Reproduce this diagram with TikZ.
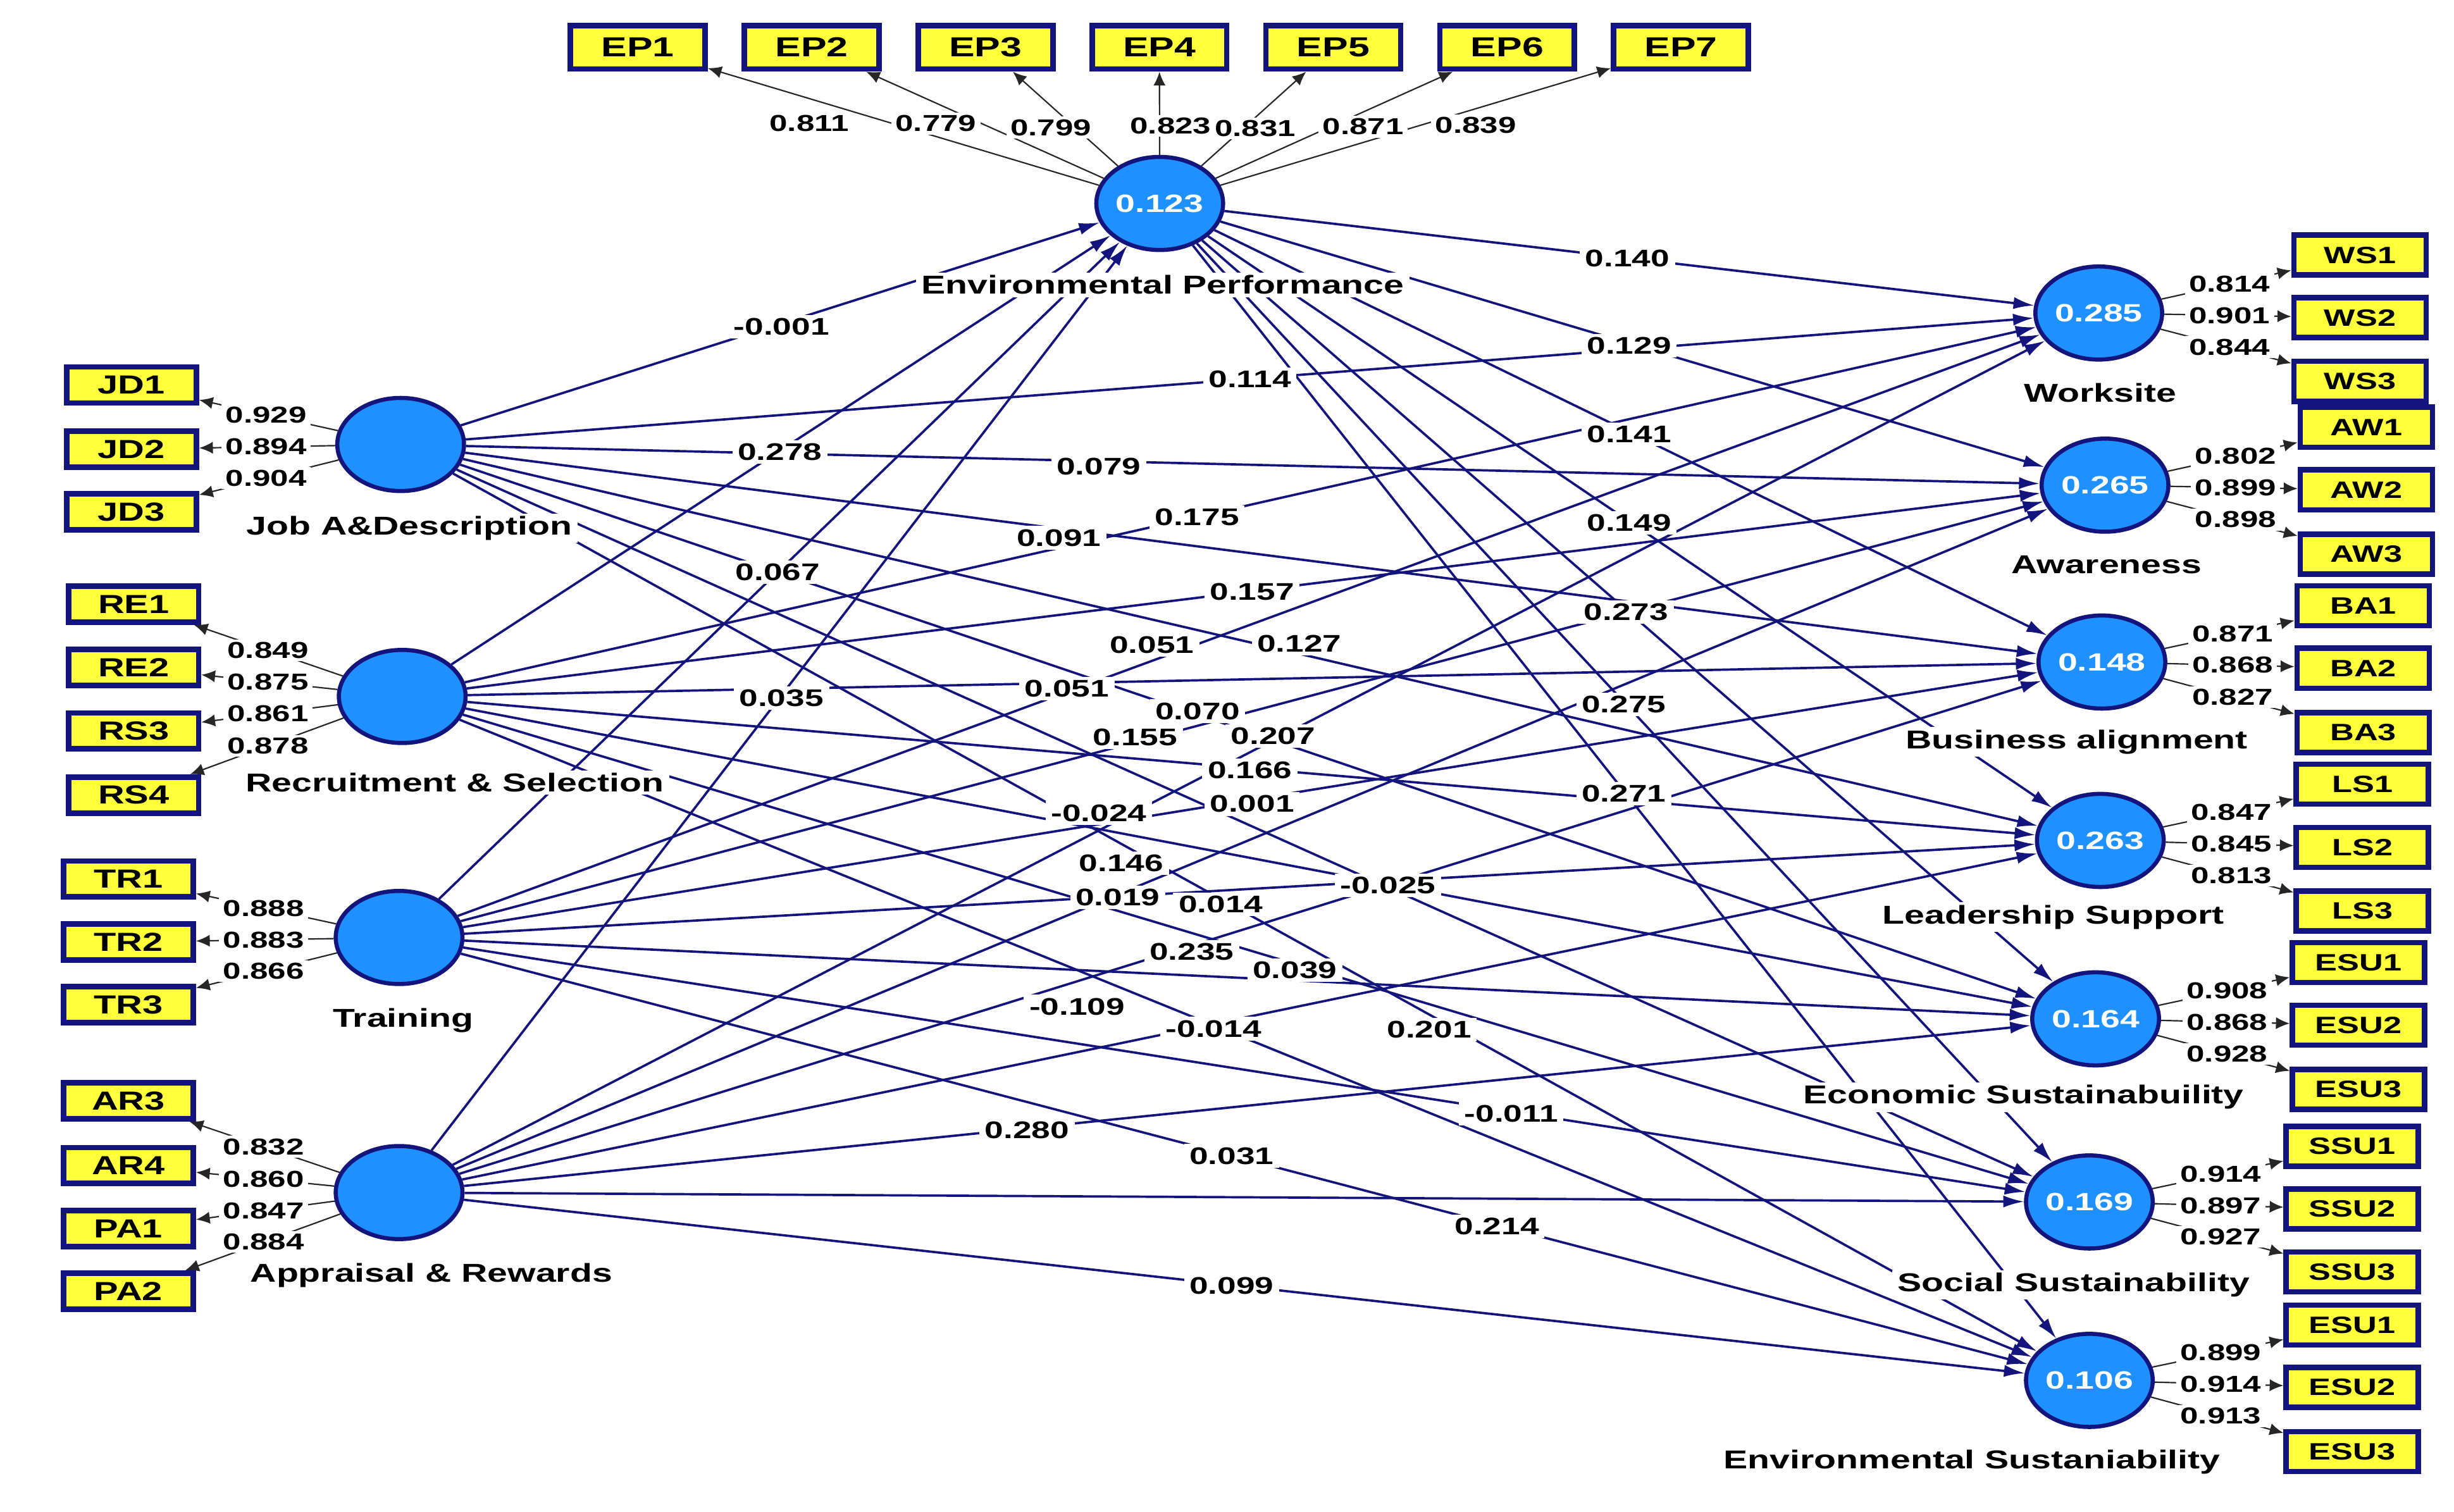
\documentclass[tikz,border=0pt]{standalone}
\usepackage{fontspec}
\newfontfamily\fW{Liberation Sans}[FakeStretch=1.4]
\usetikzlibrary{shapes.geometric,arrows.meta,calc}
\definecolor{navy}{RGB}{20,20,125}
\definecolor{lvblue}{RGB}{30,144,255}
\definecolor{indy}{RGB}{255,255,60}
\begin{document}
\begin{tikzpicture}[x=0.02cm,y=-0.02cm,
 lv/.style={ellipse,draw=navy,line width=1.5pt,fill=lvblue,minimum width=1.62cm,minimum height=1.19cm,inner sep=0pt,text=white,font=\fW\bfseries\fontsize{9.1}{10}\selectfont},
 indL/.style={rectangle,draw=navy,line width=2pt,fill=indy,minimum width=1.66cm,minimum height=0.46cm,inner sep=0pt,font=\fW\bfseries\fontsize{9.5}{10}\selectfont},
 indR/.style={indL,minimum width=1.69cm,minimum height=0.51cm,font=\fW\bfseries\fontsize{8.6}{10}\selectfont},
 indT/.style={indL,minimum width=1.72cm,minimum height=0.555cm,font=\fW\bfseries\fontsize{10}{11}\selectfont},
 cname/.style={fill=white,inner xsep=2pt,inner ysep=1pt,font=\fW\bfseries\fontsize{9.4}{10}\selectfont},
 plab/.style={fill=white,inner xsep=2pt,inner ysep=1.2pt,font=\fW\bfseries\fontsize{8.75}{10}\selectfont},
 llab/.style={fill=white,inner xsep=1.5pt,inner ysep=1pt,font=\fW\bfseries\fontsize{8.4}{10}\selectfont},
 pth/.style={draw=navy,line width=0.85pt,-{Latex[length=7.5pt,width=4.4pt]}},
 ldarr/.style={draw=black!85,line width=0.5pt,-{Latex[length=5pt,width=4.4pt]}}]
\useasboundingbox (0,0) rectangle (1568,966);
% latent variables
\node[lv] (EP) at (741,130) {0.123};
\node[lv] (JD) at (256,284) {};
\node[lv] (RS) at (257,445) {};
\node[lv] (TR) at (255,599) {};
\node[lv] (AR) at (255,762) {};
\node[lv] (WS) at (1341,200) {0.285};
\node[lv] (AW) at (1345,310) {0.265};
\node[lv] (BA) at (1343,423) {0.148};
\node[lv] (LS) at (1342,537) {0.263};
\node[lv] (EC) at (1339,651) {0.164};
\node[lv] (SS) at (1335,768) {0.169};
\node[lv] (EN) at (1335,882) {0.106};
% EP indicators
\foreach \i/\x in {1/407.5,2/518.6,3/629.7,4/740.8,5/851.9,6/963,7/1074}
  \node[indT] (EP\i) at (\x,30.2) {EP\i};
% left indicators
\foreach \n/\t/\x/\y in {JD1/JD1/84/246,JD2/JD2/84/287,JD3/JD3/84/327,
  RE1/RE1/85.4/386,RE2/RE2/85.4/426.5,RS3/RS3/85.4/467,RS4/RS4/85.4/508,
  TR1/TR1/82/561.6,TR2/TR2/82/602,TR3/TR3/82/642,
  AR3/AR3/82/703.4,AR4/AR4/82/744.7,PA1/PA1/82/785,PA2/PA2/82/825}
  \node[indL] (\n) at (\x,\y) {\t};
% right indicators
\foreach \n/\t/\x/\y in {WS1/WS1/1508/163,WS2/WS2/1508/203,WS3/WS3/1508/243.6,
  AW1/AW1/1512/273,AW2/AW2/1512/313,AW3/AW3/1512/354,
  BA1/BA1/1510/387,BA2/BA2/1510/427,BA3/BA3/1510/468,
  LS1/LS1/1509.5/501,LS2/LS2/1509.5/541.5,LS3/LS3/1509.5/582,
  EC1/ESU1/1507/615,EC2/ESU2/1507/655,EC3/ESU3/1507/696,
  SSU1/SSU1/1503/732.5,SSU2/SSU2/1503/772.5,SSU3/SSU3/1503/812.7,
  EN1/ESU1/1503/846.6,EN2/ESU2/1503/886.5,EN3/ESU3/1503/927.5}
  \node[indR] (\n) at (\x,\y) {\t};
% loading lines
\foreach \i in {1,...,7} \draw[ldarr] (EP) -- (EP\i);
\foreach \a/\b in {JD/JD1,JD/JD2,JD/JD3,RS/RE1,RS/RE2,RS/RS3,RS/RS4,
  TR/TR1,TR/TR2,TR/TR3,AR/AR3,AR/AR4,AR/PA1,AR/PA2,
  WS/WS1,WS/WS2,WS/WS3,AW/AW1,AW/AW2,AW/AW3,BA/BA1,BA/BA2,BA/BA3,
  LS/LS1,LS/LS2,LS/LS3,EC/EC1,EC/EC2,EC/EC3,SS/SSU1,SS/SSU2,SS/SSU3,
  EN/EN1,EN/EN2,EN/EN3}
  \draw[ldarr] (\a) -- (\b);
% structural paths
\foreach \s in {JD,RS,TR,AR} \draw[pth] (\s) -- (EP);
\foreach \s in {EP,JD,RS,TR,AR}
  \foreach \t in {WS,AW,BA,LS,EC,SS,EN}
    \draw[pth] (\s) -- (\t);
% construct names
\node[cname] (nEP) at (743,182) {Environmental Performance};
\node[cname] (nJD) at (261.5,337.5) {Job A\&Description};
\node[cname] (nRS) at (290.5,500) {Recruitment \& Selection};
\node[cname] (nTR) at (257.6,652) {Training};
\node[cname] (nAR) at (275.6,815) {Appraisal \& Rewards};
\node[cname] (nWS) at (1342,251) {Worksite};
\node[cname] (nAW) at (1346,361) {Awareness};
\node[cname] (nBA) at (1327,474) {Business alignment};
\node[cname] (nLS) at (1312,586) {Leadership Support};
\node[cname] (nEC) at (1293,701) {Economic Sustainabuility};
\node[cname] (nSS) at (1325,821) {Social Sustainability};
\node[cname] (nEN) at (1260,934) {Environmental Sustaniability};
% EP loading labels
\foreach \x/\y/\v [count=\k] in {517/79/0.811,598/79/0.779,671.5/81.5/0.799,748/80.5/0.823,802/82/0.831,871/81/0.871,943/80/0.839}
  \node[llab] (le\k) at (\x,\y) {\v};
% other loading labels at midpoints
\foreach \a/\b/\v in {JD/JD1/0.929,JD/JD2/0.894,JD/JD3/0.904,
  RS/RE1/0.849,RS/RE2/0.875,RS/RS3/0.861,RS/RS4/0.878,
  TR/TR1/0.888,TR/TR2/0.883,TR/TR3/0.866,
  AR/AR3/0.832,AR/AR4/0.860,AR/PA1/0.847,AR/PA2/0.884,
  WS/WS1/0.814,WS/WS2/0.901,WS/WS3/0.844,
  AW/AW1/0.802,AW/AW2/0.899,AW/AW3/0.898,
  BA/BA1/0.871,BA/BA2/0.868,BA/BA3/0.827,
  LS/LS1/0.847,LS/LS2/0.845,LS/LS3/0.813,
  EC/EC1/0.908,EC/EC2/0.868,EC/EC3/0.928,
  SS/SSU1/0.914,SS/SSU2/0.897,SS/SSU3/0.927,
  EN/EN1/0.899,EN/EN2/0.914,EN/EN3/0.913}
  \node[llab] (l\b) at ($(\a)!0.5!(\b)$) {\v};
% path coefficient labels
\foreach \x/\y/\v [count=\k] in {
  499.3/208.8/-0.001, 1039.9/165/0.140, 1040.9/220.8/0.129, 798.6/242.3/0.114,
  1040.9/277.6/0.141, 498.4/288.8/0.278, 702.1/298.2/0.079, 764.8/330.5/0.175,
  676.6/343.6/0.091, 1040.9/334.2/0.149, 497/365.6/0.067, 800/378.3/0.157,
  1039/391.2/0.273, 736/412.2/0.051, 830.2/411.2/0.127, 499.3/446.1/0.035,
  681.7/440/0.051, 765.2/454.4/0.070, 1037.6/450/0.275, 725.3/470.9/0.155,
  813.5/470.4/0.207, 798.6/492.3/0.166, 1037.6/507.2/0.271, 702.1/519.4/-0.024,
  800/513.7/0.001, 716.5/551.6/0.146, 886.8/565.8/-0.025, 714.2/573.5/0.019,
  780/577.9/0.014, 761.5/608.3/0.235, 827.4/619.9/0.039, 688.2/643.1/-0.109,
  775.4/657.3/-0.014, 913.2/657.8/0.201, 965.6/711.4/-0.011, 656.2/722.2/0.280,
  787/738.5/0.031, 956.4/783.6/0.214, 787/821.7/0.099}
  \node[plab] (p\k) at (\x,\y) {\v};
\end{tikzpicture}
\end{document}
